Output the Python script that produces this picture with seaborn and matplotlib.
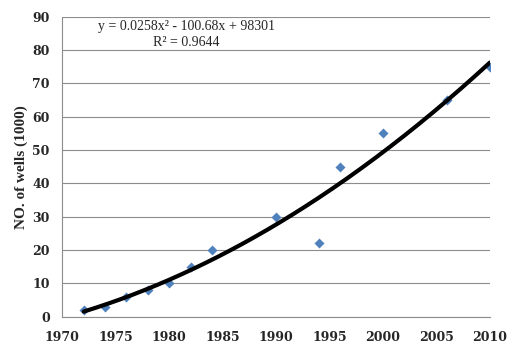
import numpy as np
import pandas as pd
import matplotlib
matplotlib.use("Agg")
import matplotlib.pyplot as plt
import seaborn as sns

years = [1972, 1974, 1976, 1978, 1980, 1982, 1984, 1990, 1994, 1996, 2000, 2006, 2010]
wells = [2, 3, 6, 8, 10, 15, 20, 30, 22, 45, 55, 65, 75]
x_ticks = [1970, 1975, 1980, 1985, 1990, 1995, 2000, 2005, 2010]
y_ticks = [0, 10, 20, 30, 40, 50, 60, 70, 80, 90]

sns.set_theme(style="white")
plt.rcParams["font.family"] = ["Liberation Serif", "DejaVu Serif"]

df = pd.DataFrame({"year": years, "wells": wells})

# quadratic trend line fitted to the points (Excel-style trendline)
coef = np.polyfit(df["year"], df["wells"], 2)
xs = np.linspace(min(years), max(years), 200)
trend = pd.DataFrame({"year": xs, "wells": np.polyval(coef, xs)})

fig, ax = plt.subplots(figsize=(5.24, 3.56), dpi=100)
fig.subplots_adjust(left=0.119, right=0.935, top=0.953, bottom=0.11)

ax.grid(axis="y", color="#8c8c8c", linewidth=0.8)
ax.set_axisbelow(True)

sns.scatterplot(data=df, x="year", y="wells", marker="D", s=26,
                color="#4f81bd", edgecolor="#4f81bd", linewidth=0, ax=ax, zorder=3)
sns.lineplot(data=trend, x="year", y="wells", color="black", linewidth=3,
             ax=ax, zorder=4)

ax.set_xlim(1970, 2010)
ax.set_ylim(0, 90)
ax.set_xticks(x_ticks)
ax.set_yticks(y_ticks)
ax.tick_params(axis="x", length=0, pad=10)
ax.tick_params(axis="y", length=0, pad=9)
for lab in ax.get_xticklabels() + ax.get_yticklabels():
    lab.set_fontfamily("DejaVu Serif")
    lab.set_fontsize(9)
    lab.set_fontweight("bold")

ax.set_xlabel("")
ax.set_ylabel("NO. of wells (1000)", fontsize=11, fontweight="bold", labelpad=3)

for side in ["top", "right"]:
    ax.spines[side].set_visible(False)
for side in ["left", "bottom"]:
    ax.spines[side].set_color("#8c8c8c")
    ax.spines[side].set_linewidth(0.8)

ax.text(0.29, 0.966, "y = 0.0258x² - 100.68x + 98301", transform=ax.transAxes,
        ha="center", va="center", fontsize=10)
ax.text(0.29, 0.914, "R² = 0.9644", transform=ax.transAxes,
        ha="center", va="center", fontsize=10)

plt.savefig("out.png", dpi=100)
plt.close()
